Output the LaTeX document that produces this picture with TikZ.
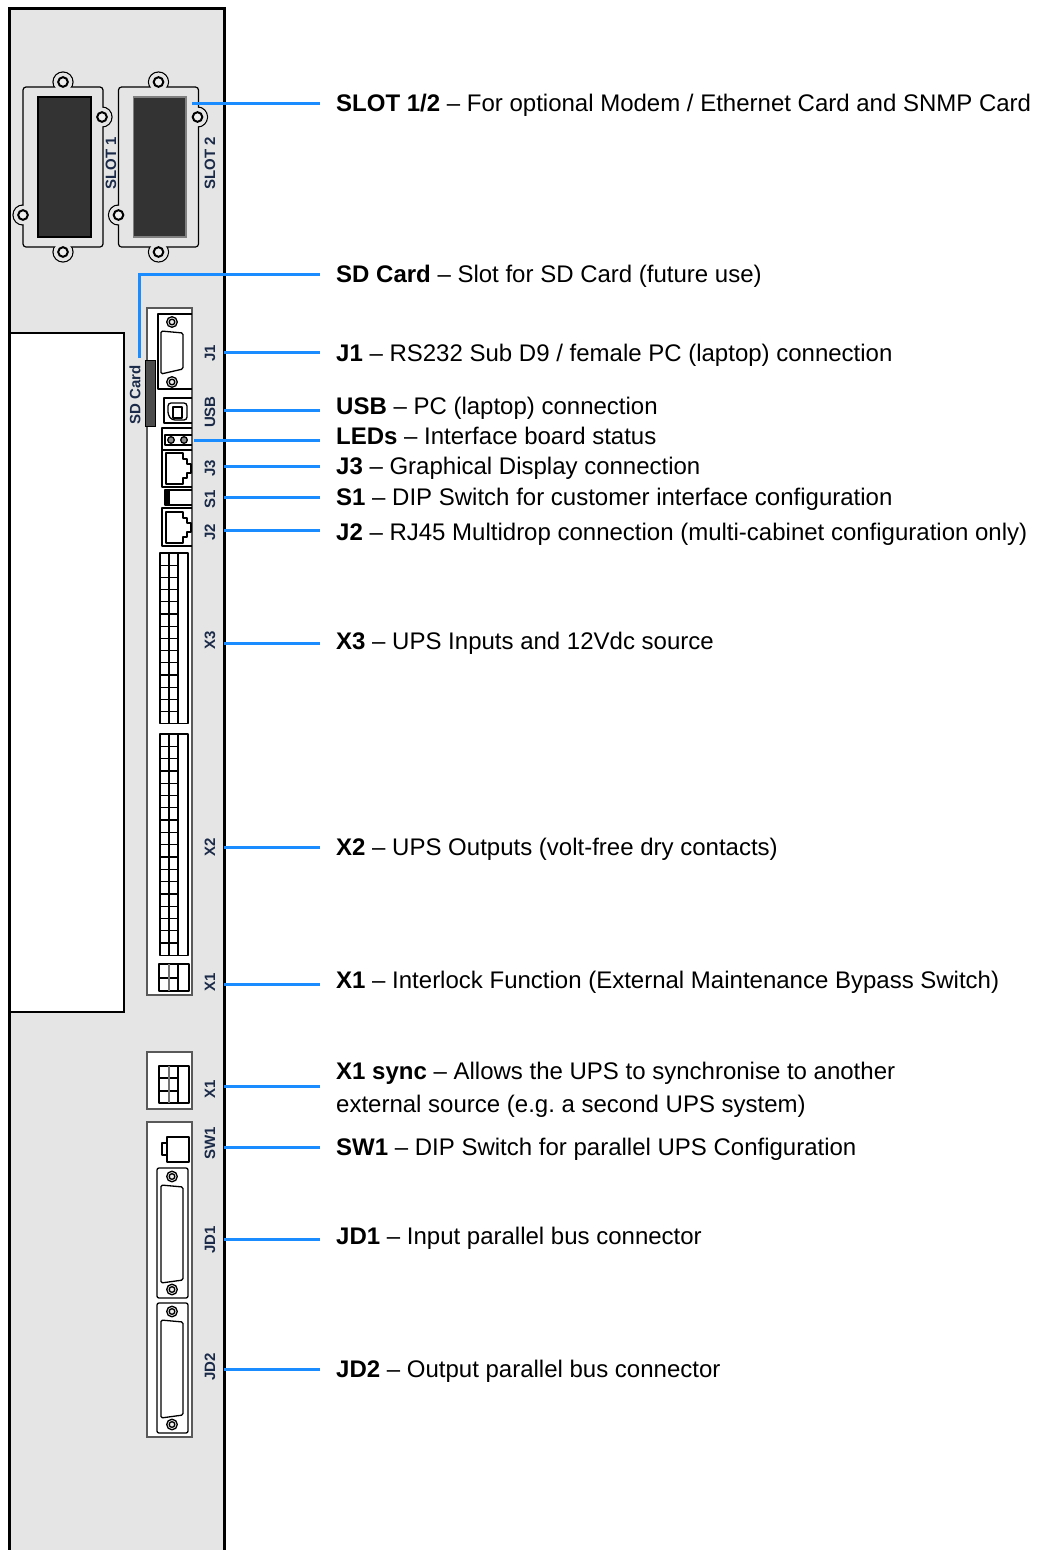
\documentclass[tikz,border=0pt]{standalone}
\usepackage{fontspec}
\setmainfont{Liberation Sans}
\definecolor{panelgrey}{HTML}{E5E5E5}
\definecolor{tagnavy}{HTML}{1A2A48}
\definecolor{leaderblue}{HTML}{1A8CFF}
\definecolor{windowdark}{HTML}{333333}
\tikzset{
    leader/.style={leaderblue, line width=3pt},
    part/.style={black, line width=1.3pt, line join=round},
    board/.style={draw=black!65, fill=white, line width=1.1pt},
    tag/.style={rotate=90, inner sep=0pt, text=tagnavy, font=\fontsize{15}{15}\selectfont\bfseries},
    lbl/.style={anchor=base west, inner ysep=0pt, inner xsep=16pt, align=left, font=\fontsize{24}{33}\selectfont},
    screw/.pic={
        \draw[part, fill=panelgrey] (0,0) circle (5.3);
        \draw[part, fill=panelgrey!60] (0,0) circle (2.8);
    },
    jack/.pic={
        \draw[part] (0,0) -- (17,0) -- (17,6) -- (21,6) -- (21,11) -- (25,11) -- (25,20)
            -- (21,20) -- (21,25) -- (17,25) -- (17,31) -- (0,31) -- cycle;
    },
    slotplate/.pic={
        \foreach \ex/\ey in {40/-5,79/30,0/128,40/165}
            \draw[black, line width=1.2pt] (\ex,\ey) circle (10);
        \draw[black, line width=1.2pt, fill=panelgrey, rounded corners=3pt] (0,0) rectangle (80,160);
        \foreach \ex/\ey in {40/-5,79/30,0/128,40/165}
        {
            \fill[panelgrey] (\ex,\ey) circle (9.3);
            \draw[black, line width=2pt, fill=panelgrey!60] (\ex,\ey) circle (4.8);
        }
    }
}

\begin{document}
\begin{tikzpicture}[x=1pt, y=-1pt]
\useasboundingbox (0,0) rectangle (1037,1550);

% Cabinet panel
\fill[panelgrey] (9,8) rectangle (224,1550);
\draw[white, fill=white] (9,333) rectangle (124,1012);
\draw[black, line width=2.4pt] (9,333) -- (124,333) -- (124,1012) -- (9,1012);
\draw[black, line width=3pt] (9,1550) -- (9,8) -- (224,8) -- (224,1550);

% Option slots
\pic (plateone) at (23,87) {slotplate};
\pic (platetwo) at (118.5,87) {slotplate};
\draw[black, line width=1.3pt, fill=windowdark] (38,97) rectangle (91,237);
\draw[black!50, line width=1.3pt, fill=windowdark] (133.5,97) rectangle (186,237);
\node[tag] (tagslotone) at (111,163) {SLOT 1};
\node[tag] (tagslottwo) at (210,163) {SLOT 2};

% Interface board
\draw[board] (147,308) rectangle (192,995);
\fill[black!70] (145,360) rectangle (155,426);
\draw[black, line width=1pt] (145,360) rectangle (155,426);
\node[tag] (tagsd) at (135,395) {SD Card};

% J1
\draw[part] (192,314) -- (158,314) -- (158,389) -- (192,389);
\draw[part, rounded corners=1.5pt] (161,331) -- (183,333) -- (183,369) -- (161,374) -- cycle;
\pic (jonetop) at (172,322) {screw};
\pic (jonebot) at (172,382) {screw};

% USB
\draw[part] (192,398) -- (164,398) -- (164,423) -- (192,423);
\draw[part, rounded corners=3pt] (168,403) -- (187,403) -- (187,420) -- (172,420) -- (168,415) -- cycle;
\draw[part] (173,407) rectangle (182,418);

% LEDs
\draw[part] (192,428) -- (162,428) -- (162,450) -- (192,450);
\draw[part] (192,435) -- (165,435) -- (165,445) -- (192,445);
\foreach \lx in {171,184}
    \draw[part, fill=black!45] (\lx,440) circle (3.3);

% J3
\draw[part] (192,450) -- (162,450) -- (162,487) -- (192,487);
\pic (jackthree) at (166,453) {jack};

% S1
\draw[part] (192,490) -- (165,490) -- (165,505) -- (192,505);
\fill[black] (165,490) rectangle (169.5,505);

% J2
\draw[part] (192,508) -- (162,508) -- (162,546) -- (192,546);
\pic (jacktwo) at (166,512) {jack};

% X3 and X2 terminals
\foreach \gtop/\rows/\gh in {553/14/12.2,734/18/12.3}
{
    \draw[part] (160,\gtop) rectangle (188,{\gtop+\rows*\gh});
    \draw[part] (169,\gtop) -- (169,{\gtop+\rows*\gh});
    \draw[part] (178,\gtop) -- (178,{\gtop+\rows*\gh});
    \foreach \r in {1,...,\rows}
        \draw[part] (160,{\gtop+\r*\gh}) -- (178,{\gtop+\r*\gh});
}

% X1 interlock
\draw[part] (159,964) rectangle (189,991);
\draw[part] (159,978) -- (178,978);
\draw[part] (178,964) -- (178,991);
\draw[black!55, line width=1.3pt] (169,964) -- (169,991);

% X1 sync
\draw[board] (147,1052) rectangle (192,1109);
\draw[part] (159,1066) rectangle (189,1103);
\draw[part] (159,1078) -- (178,1078);
\draw[part] (159,1091) -- (178,1091);
\draw[part] (178,1066) -- (178,1103);
\draw[black!55, line width=1.3pt] (169,1066) -- (169,1103);

% Parallel board
\draw[board] (147,1122) rectangle (192,1437);
\draw[part] (167,1137) rectangle (189,1162);
\draw[part] (167,1143) -- (162,1143) -- (162,1155) -- (167,1155);

% JD1 and JD2
\foreach \dtop in {1168,1303}
{
    \draw[part, rounded corners=2pt] (157,\dtop) rectangle (188,{\dtop+130});
    \draw[part, rounded corners=1.5pt] (161,{\dtop+17}) -- (183,{\dtop+19}) -- (183,{\dtop+112})
        -- (161,{\dtop+115}) -- cycle;
    \pic at (172,{\dtop+8.5}) {screw};
    \pic at (172,{\dtop+121.5}) {screw};
}

% Connector names
\node[tag] (tagjone) at (210,353) {J1};
\node[tag] (tagusb) at (210,412) {USB};
\node[tag] (tagjthree) at (210,468) {J3};
\node[tag] (tagsone) at (210,499) {S1};
\node[tag] (tagjtwo) at (210,532) {J2};
\node[tag] (tagxthree) at (210,640) {X3};
\node[tag] (tagxtwo) at (210,847) {X2};
\node[tag] (tagxone) at (210,982) {X1};
\node[tag] (tagsync) at (210,1089) {X1};
\node[tag] (tagsw) at (210,1143) {SW1};
\node[tag] (tagjdone) at (210,1240) {JD1};
\node[tag] (tagjdtwo) at (210,1367) {JD2};

% Labels
\node[lbl] (slots) at (320,111) {\textbf{SLOT 1/2} – For optional Modem / Ethernet Card and SNMP Card};
\node[lbl] (sdcard) at (320,282) {\textbf{SD Card} – Slot for SD Card (future use)};
\node[lbl] (jone) at (320,361) {\textbf{J1} – RS232 Sub D9 / female PC (laptop) connection};
\node[lbl] (usb) at (320,414) {\textbf{USB} – PC (laptop) connection};
\node[lbl] (leds) at (320,444) {\textbf{LEDs} – Interface board status};
\node[lbl] (jthree) at (320,474) {\textbf{J3} – Graphical Display connection};
\node[lbl] (sone) at (320,505) {\textbf{S1} – DIP Switch for customer interface configuration};
\node[lbl] (jtwo) at (320,540) {\textbf{J2} – RJ45 Multidrop connection (multi-cabinet configuration only)};
\node[lbl] (xthree) at (320,649) {\textbf{X3} – UPS Inputs and 12Vdc source};
\node[lbl] (xtwo) at (320,855) {\textbf{X2} – UPS Outputs (volt-free dry contacts)};
\node[lbl] (xone) at (320,988) {\textbf{X1} – Interlock Function (External Maintenance Bypass Switch)};
\node[lbl] (sync) at (320,1112) {\textbf{X1 sync} – Allows the UPS to synchronise to another\\external source (e.g.\ a second UPS system)};
\node[lbl] (swone) at (320,1155) {\textbf{SW1} – DIP Switch for parallel UPS Configuration};
\node[lbl] (jdone) at (320,1244) {\textbf{JD1} – Input parallel bus connector};
\node[lbl] (jdtwo) at (320,1377) {\textbf{JD2} – Output parallel bus connector};

% Leader lines
\coordinate (fromslot) at (192,103);
\coordinate (fromsd) at (139,358);
\coordinate (fromled) at (194,440);
\draw[leader] (fromslot) -- (slots.west |- fromslot);
\draw[leader] (fromsd) |- (sdcard.west |- 0,274);
\draw[leader] (fromled) -- (leds.west |- fromled);
\foreach \lname/\ly in {jone/352,usb/410,jthree/466,sone/497,jtwo/530,xthree/643,xtwo/847,xone/984,sync/1086,swone/1147,jdone/1239,jdtwo/1369}
    \draw[leader] (224,\ly) -- (\lname.west |- 0,\ly);

\end{tikzpicture}
\end{document}
